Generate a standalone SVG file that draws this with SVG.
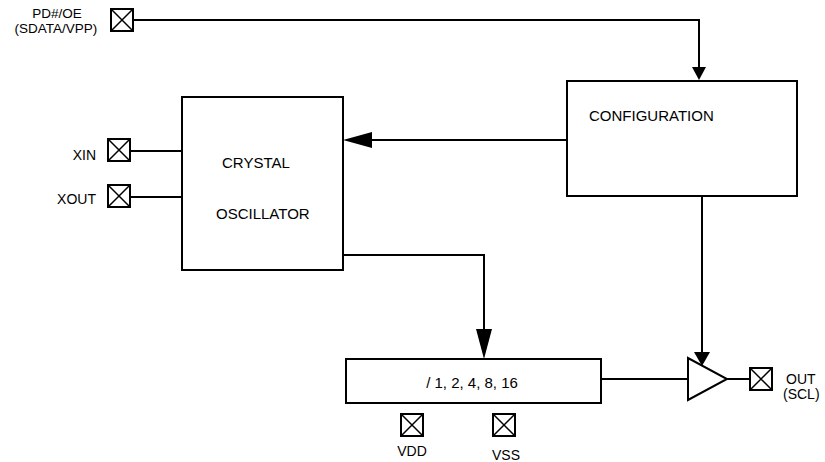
<svg xmlns="http://www.w3.org/2000/svg" width="825" height="462" viewBox="0 0 825 462">
<style>
.b{fill:#fff;stroke:#000;stroke-width:2}
.w{fill:none;stroke:#000;stroke-width:2}
.x{fill:none;stroke:#000;stroke-width:1.5}
.a{fill:#000;stroke:none}
text{font-family:"Liberation Sans",Arial,sans-serif;font-size:14px;fill:#000}
.L{font-size:15px}
.s{font-size:13.5px}
.m{text-anchor:middle}
.e{text-anchor:end}
</style>
<defs>
<g id="pin"><rect x="0" y="0" width="22" height="22" class="x" style="stroke-width:2"/><path d="M0,0L22,22M22,0L0,22" class="x"/></g>
</defs>
<g id="connectors">
<path d="M133,20H699V67" class="w"/>
<polygon points="692,67 706,67 699,80" class="a"/>
<path d="M567,140H372" class="w"/>
<polygon points="372,132 372,148 343,140" class="a"/>
<path d="M130,151H182" class="w"/>
<path d="M130,197H182" class="w"/>
<path d="M343,255H484V329" class="w"/>
<polygon points="476,329 492,329 484,359" class="a"/>
<path d="M601,379H688" class="w"/>
<path d="M702,196V352" class="w"/>
<polygon points="694,352 710,352 702,366" class="a"/>
<path d="M727,379H750" class="w"/>
</g>
<g id="pd-oe"><use href="#pin" x="111" y="9"/><text x="57" y="18" class="m s">PD#/OE</text><text x="56" y="33" class="m s">(SDATA/VPP)</text></g>
<g id="configuration"><rect x="567" y="81" width="230" height="115" class="b"/><text x="589" y="121" class="L">CONFIGURATION</text></g>
<g id="crystal-oscillator"><rect x="182" y="97" width="161" height="173" class="b"/><text x="222" y="168" class="L">CRYSTAL</text><text x="216" y="219" class="L">OSCILLATOR</text></g>
<g id="xin"><use href="#pin" x="108" y="139"/><text x="96" y="160" class="e">XIN</text></g>
<g id="xout"><use href="#pin" x="108" y="185"/><text x="96" y="204" class="e">XOUT</text></g>
<g id="divider"><rect x="346" y="359" width="255" height="44" class="b"/><text x="472" y="388" class="m L">/ 1, 2, 4, 8, 16</text></g>
<g id="buffer"><polygon points="688,358 688,400 727,379" class="b"/></g>
<g id="out"><use href="#pin" x="750" y="368"/><text x="786" y="384">OUT</text><text x="783" y="399">(SCL)</text></g>
<g id="vdd"><use href="#pin" x="401" y="414"/><text x="412" y="456" class="m">VDD</text></g>
<g id="vss"><use href="#pin" x="493" y="414"/><text x="506" y="460" class="m">VSS</text></g>
</svg>
